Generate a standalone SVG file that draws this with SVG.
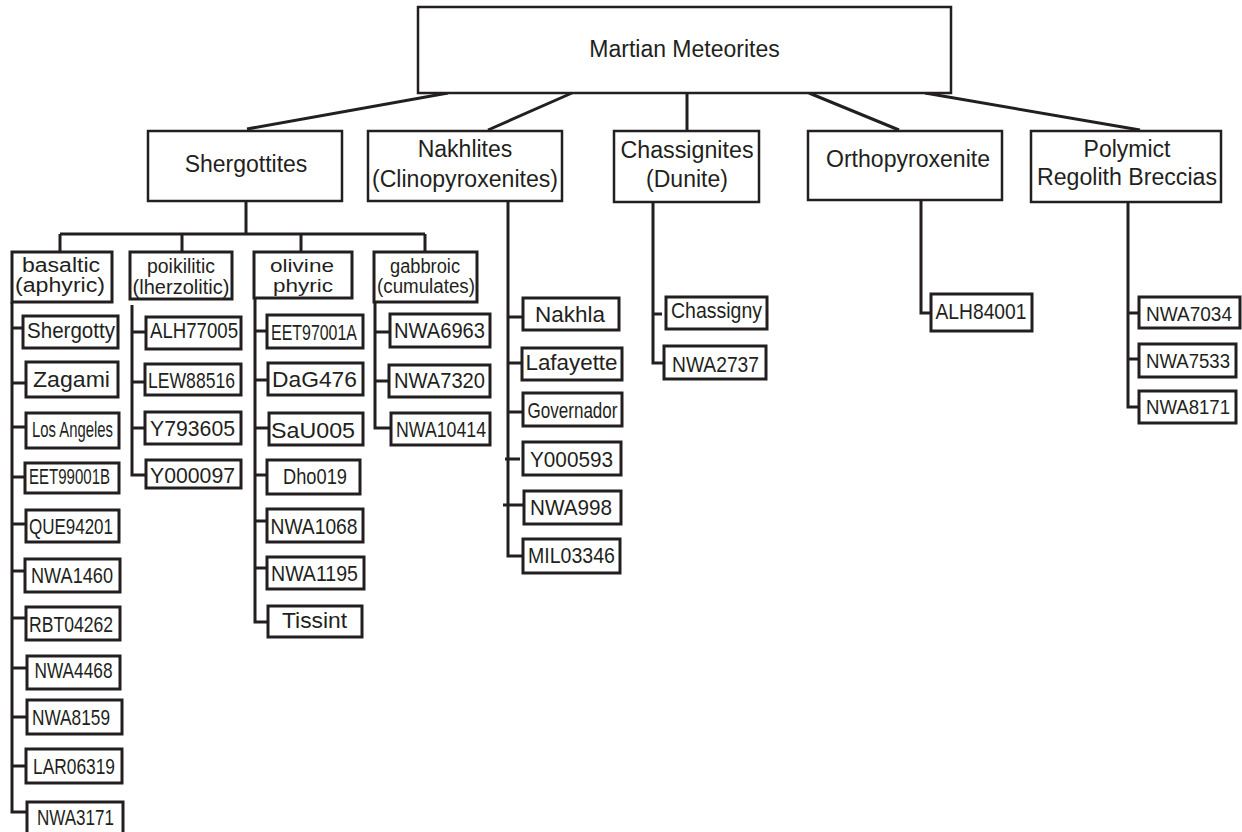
<svg xmlns="http://www.w3.org/2000/svg" width="1242" height="832" viewBox="0 0 1242 832">
<style>
.bx{fill:#fff;stroke:#231f20;stroke-width:3}
.bx1{fill:#fff;stroke:#231f20;stroke-width:2.5}
.ln{fill:none;stroke:#231f20;stroke-width:3}
text{font-family:"Liberation Sans",Arial,Helvetica,sans-serif;fill:#231f20;text-anchor:middle}
.t1{font-size:23px}
.t2{font-size:20px}
.t2s{font-size:19px}
.t3{font-size:22px}
.t4{font-size:19.5px;text-anchor:start}
</style>
<rect width="1242" height="832" fill="#fff"/>
<g id="connectors" class="ln">
<path d="M448 93L247 129M572 93L488 130M687 93V131M809 93L899 130M925 93L1140 130"/>
<path d="M246 201V234M60 234H425M60 234V252M182 234V252M301 234V252M425 234V252"/>
<path d="M12 302V812H27M12 328H23M12 383H26M12 427H26M12 477H25M12 524H26M12 571H25M12 618H26M12 668H27M12 717H27M12 766H26"/>
<path d="M132 305V475H146M132 332H146M132 382H145M132 428H145"/>
<path d="M255 298V622H268M255 331H267M255 380H268M255 428H269M255 475H267M255 521H267M255 568H267"/>
<path d="M375 302V428H391M375 332H390M375 381H389"/>
<path d="M508 201V556H523M508 317H523M508 363H522M508 412H523M505 459H520M503 505H524"/>
<path d="M653 202V363H664M653 314H662"/>
<path d="M921 200V313H931"/>
<path d="M1128 203V407H1139M1128 313H1139M1128 359H1139"/>
</g>
<g id="root"><rect class="bx1" x="418" y="7" width="533" height="86"/><text class="t1" x="684.5" y="57">Martian Meteorites</text></g>
<g id="shergottites"><rect class="bx1" x="148" y="131" width="194" height="70"/><text class="t1" x="246" y="172">Shergottites</text></g>
<g id="nakhlites"><rect class="bx1" x="368" y="131" width="194" height="70"/><text class="t1" x="465" y="157">Nakhlites</text><text class="t1" x="465" y="187" textLength="186" lengthAdjust="spacingAndGlyphs">(Clinopyroxenites)</text></g>
<g id="chassignites"><rect class="bx1" x="614" y="131" width="145" height="71"/><text class="t1" x="687" y="158" textLength="133" lengthAdjust="spacingAndGlyphs">Chassignites</text><text class="t1" x="687" y="187">(Dunite)</text></g>
<g id="orthopyroxenite"><rect class="bx1" x="808" y="131" width="194" height="69"/><text class="t1" x="908" y="167" textLength="164" lengthAdjust="spacingAndGlyphs">Orthopyroxenite</text></g>
<g id="polymict"><rect class="bx1" x="1031" y="131" width="190" height="71"/><text class="t1" x="1127" y="157">Polymict</text><text class="t1" x="1127" y="185" textLength="180" lengthAdjust="spacingAndGlyphs">Regolith Breccias</text></g>
<g id="basaltic"><rect class="bx" x="12" y="252" width="100" height="50"/><text class="t2" x="61" y="272" textLength="78" lengthAdjust="spacingAndGlyphs">basaltic</text><text class="t2" x="60" y="292" textLength="90" lengthAdjust="spacingAndGlyphs">(aphyric)</text></g>
<g id="poikilitic"><rect class="bx" x="130" y="252" width="102" height="47"/><text class="t2" x="181" y="273" textLength="68" lengthAdjust="spacingAndGlyphs">poikilitic</text><text class="t2" x="181" y="294" textLength="97" lengthAdjust="spacingAndGlyphs">(lherzolitic)</text></g>
<g id="olivine-phyric"><rect class="bx" x="254" y="252" width="98" height="46"/><text class="t2s" x="302" y="272" textLength="64" lengthAdjust="spacingAndGlyphs">olivine</text><text class="t2s" x="303" y="292" textLength="60" lengthAdjust="spacingAndGlyphs">phyric</text></g>
<g id="gabbroic"><rect class="bx" x="374" y="252" width="103" height="50"/><text class="t2" x="425" y="273" textLength="70" lengthAdjust="spacingAndGlyphs">gabbroic</text><text class="t2" x="426" y="293" textLength="98" lengthAdjust="spacingAndGlyphs">(cumulates)</text></g>
<g id="shergotty"><rect class="bx" x="23" y="316" width="95" height="32"/><text class="t3" x="71" y="338" textLength="88" lengthAdjust="spacingAndGlyphs">Shergotty</text></g>
<g id="zagami"><rect class="bx" x="26" y="362" width="92" height="35"/><text class="t3" x="71.5" y="387" textLength="77" lengthAdjust="spacingAndGlyphs">Zagami</text></g>
<g id="los-angeles"><rect class="bx" x="26" y="413" width="93" height="35"/><text class="t3" x="72.5" y="437" textLength="81" lengthAdjust="spacingAndGlyphs">Los Angeles</text></g>
<g id="eet99001b"><rect class="bx" x="25" y="463" width="94" height="30"/><text class="t3" x="69.5" y="484" textLength="81" lengthAdjust="spacingAndGlyphs">EET99001B</text></g>
<g id="que94201"><rect class="bx" x="26" y="510" width="93" height="32"/><text class="t3" x="71" y="534" textLength="84" lengthAdjust="spacingAndGlyphs">QUE94201</text></g>
<g id="nwa1460"><rect class="bx" x="25" y="559" width="95" height="33"/><text class="t3" x="72" y="583" textLength="82" lengthAdjust="spacingAndGlyphs">NWA1460</text></g>
<g id="rbt04262"><rect class="bx" x="26" y="607" width="94" height="33"/><text class="t3" x="71" y="632" textLength="84" lengthAdjust="spacingAndGlyphs">RBT04262</text></g>
<g id="nwa4468"><rect class="bx" x="27" y="656" width="93" height="33"/><text class="t3" x="73.5" y="678" textLength="78" lengthAdjust="spacingAndGlyphs">NWA4468</text></g>
<g id="nwa8159"><rect class="bx" x="27" y="700" width="95" height="34"/><text class="t3" x="71" y="725" textLength="78" lengthAdjust="spacingAndGlyphs">NWA8159</text></g>
<g id="lar06319"><rect class="bx" x="26" y="749" width="96" height="34"/><text class="t3" x="74" y="774" textLength="82" lengthAdjust="spacingAndGlyphs">LAR06319</text></g>
<g id="nwa3171"><rect class="bx" x="27" y="802" width="96" height="32"/><text class="t3" x="75.5" y="825" textLength="77" lengthAdjust="spacingAndGlyphs">NWA3171</text></g>
<g id="alh77005"><rect class="bx" x="146" y="317" width="95" height="32"/><text class="t3" x="194" y="338" textLength="88" lengthAdjust="spacingAndGlyphs">ALH77005</text></g>
<g id="lew88516"><rect class="bx" x="145" y="364" width="96" height="31"/><text class="t3" x="191.5" y="388" textLength="87" lengthAdjust="spacingAndGlyphs">LEW88516</text></g>
<g id="y793605"><rect class="bx" x="145" y="412" width="96" height="32"/><text class="t3" x="192.5" y="436" textLength="85" lengthAdjust="spacingAndGlyphs">Y793605</text></g>
<g id="y000097"><rect class="bx" x="146" y="460" width="95" height="28"/><text class="t3" x="192.5" y="483" textLength="85" lengthAdjust="spacingAndGlyphs">Y000097</text></g>
<g id="eet97001a"><rect class="bx" x="267" y="315" width="96" height="33"/><text class="t3" x="314" y="340" textLength="86" lengthAdjust="spacingAndGlyphs">EET97001A</text></g>
<g id="dag476"><rect class="bx" x="268" y="363" width="95" height="32"/><text class="t3" x="314.5" y="387" textLength="85" lengthAdjust="spacingAndGlyphs">DaG476</text></g>
<g id="sau005"><rect class="bx" x="269" y="413" width="94" height="32"/><text class="t3" x="313" y="438" textLength="84" lengthAdjust="spacingAndGlyphs">SaU005</text></g>
<g id="dho019"><rect class="bx" x="267" y="460" width="93" height="34"/><text class="t3" x="315" y="484" textLength="64" lengthAdjust="spacingAndGlyphs">Dho019</text></g>
<g id="nwa1068"><rect class="bx" x="267" y="509" width="96" height="33"/><text class="t3" x="314" y="534" textLength="87" lengthAdjust="spacingAndGlyphs">NWA1068</text></g>
<g id="nwa1195"><rect class="bx" x="267" y="557" width="97" height="32"/><text class="t3" x="314.5" y="581" textLength="87" lengthAdjust="spacingAndGlyphs">NWA1195</text></g>
<g id="tissint"><rect class="bx" x="268" y="606" width="94" height="31"/><text class="t3" x="314.5" y="628" textLength="65" lengthAdjust="spacingAndGlyphs">Tissint</text></g>
<g id="nwa6963"><rect class="bx" x="390" y="314" width="100" height="33"/><text class="t3" x="439.5" y="338" textLength="91" lengthAdjust="spacingAndGlyphs">NWA6963</text></g>
<g id="nwa7320"><rect class="bx" x="389" y="365" width="101" height="32"/><text class="t3" x="439.5" y="388" textLength="91" lengthAdjust="spacingAndGlyphs">NWA7320</text></g>
<g id="nwa10414"><rect class="bx" x="391" y="413" width="99" height="32"/><text class="t3" x="441" y="437" textLength="90" lengthAdjust="spacingAndGlyphs">NWA10414</text></g>
<g id="nakhla"><rect class="bx" x="523" y="298" width="96" height="32"/><text class="t3" x="570" y="322" textLength="70" lengthAdjust="spacingAndGlyphs">Nakhla</text></g>
<g id="lafayette"><rect class="bx" x="522" y="348" width="100" height="32"/><text class="t3" x="571.5" y="370" textLength="92" lengthAdjust="spacingAndGlyphs">Lafayette</text></g>
<g id="governador"><rect class="bx" x="523" y="393" width="99" height="33"/><text class="t3" x="572.5" y="418" textLength="90" lengthAdjust="spacingAndGlyphs">Governador</text></g>
<g id="y000593"><rect class="bx" x="523" y="442" width="98" height="33"/><text class="t3" x="571.5" y="467" textLength="83" lengthAdjust="spacingAndGlyphs">Y000593</text></g>
<g id="nwa998"><rect class="bx" x="524" y="491" width="97" height="33"/><text class="t3" x="571" y="515" textLength="82" lengthAdjust="spacingAndGlyphs">NWA998</text></g>
<g id="mil03346"><rect class="bx" x="523" y="539" width="97" height="34"/><text class="t3" x="571.5" y="563" textLength="87" lengthAdjust="spacingAndGlyphs">MIL03346</text></g>
<g id="chassigny"><rect class="bx" x="666" y="297" width="101" height="32"/><text class="t3" x="716.5" y="318" textLength="91" lengthAdjust="spacingAndGlyphs">Chassigny</text></g>
<g id="nwa2737"><rect class="bx" x="664" y="346" width="102" height="33"/><text class="t3" x="715.5" y="372" textLength="87" lengthAdjust="spacingAndGlyphs">NWA2737</text></g>
<g id="alh84001"><rect class="bx" x="931" y="294" width="101" height="37"/><text class="t3" x="981" y="319" textLength="91" lengthAdjust="spacingAndGlyphs">ALH84001</text></g>
<g id="nwa7034"><rect class="bx" x="1139" y="297" width="101" height="31"/><text class="t4" x="1146" y="321" textLength="86" lengthAdjust="spacingAndGlyphs">NWA7034</text></g>
<g id="nwa7533"><rect class="bx" x="1139" y="344" width="97" height="33"/><text class="t4" x="1146" y="368" textLength="84" lengthAdjust="spacingAndGlyphs">NWA7533</text></g>
<g id="nwa8171"><rect class="bx" x="1139" y="391" width="97" height="32"/><text class="t4" x="1146" y="414" textLength="84" lengthAdjust="spacingAndGlyphs">NWA8171</text></g>
</svg>
